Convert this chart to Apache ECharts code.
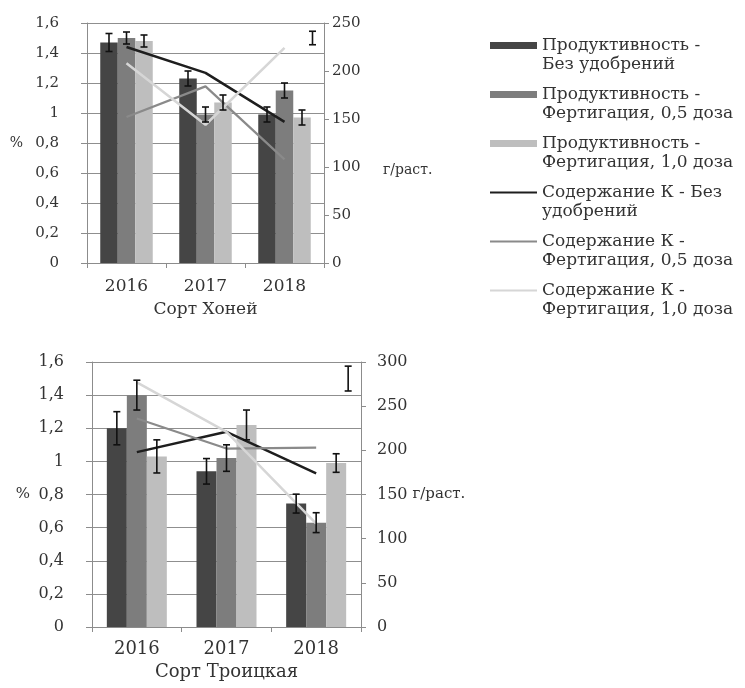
<!DOCTYPE html>
<html>
<head>
<meta charset="utf-8">
<title>Продуктивность и содержание К</title>
<script src="https://cdn.jsdelivr.net/npm/echarts@6/dist/echarts.min.js"></script>
<style>
  html, body { margin: 0; padding: 0; background: #ffffff; }
  #chart { width: 745px; height: 688px; }
</style>
</head>
<body>
<div id="chart"></div>
<script>
// Years on the category axis
const years = ['2016', '2017', '2018'];

// Series names (legend order) and their two-line legend captions
const seriesNames = [
  'Продуктивность - Без удобрений',
  'Продуктивность - Фертигация, 0,5 доза',
  'Продуктивность - Фертигация, 1,0 доза',
  'Содержание К - Без удобрений',
  'Содержание К - Фертигация, 0,5 доза',
  'Содержание К - Фертигация, 1,0 доза'
];
const legendCaptions = [
  'Продуктивность -\nБез удобрений',
  'Продуктивность -\nФертигация, 0,5 доза',
  'Продуктивность -\nФертигация, 1,0 доза',
  'Содержание К - Без\nудобрений',
  'Содержание К -\nФертигация, 0,5 доза',
  'Содержание К -\nФертигация, 1,0 доза'
];

// Panel titles
const varietyHoney = 'Сорт Хоней';
const varietyTroitskaya = 'Сорт Троицкая';
const leftAxisName = '%';
const rightAxisName = 'г/раст.';

// Сорт Хоней — bars (left axis) with error values
const honeyBarNoFert = [1.47, 1.23, 0.99];
const honeyBarFert05 = [1.50, 0.99, 1.15];
const honeyBarFert10 = [1.48, 1.07, 0.97];
const honeyErrNoFert = [0.06, 0.05, 0.05];
const honeyErrFert05 = [0.04, 0.05, 0.05];
const honeyErrFert10 = [0.04, 0.05, 0.05];
// Сорт Хоней — lines (right axis)
const honeyLineNoFert = [225, 198, 147];
const honeyLineFert05 = [152, 184, 108];
const honeyLineFert10 = [208, 144, 224];
// Сорт Хоней — separate whisker beside 2018: [centre, error]
const honeyLoneWhisker = [1.50, 0.045];

// Сорт Троицкая — bars (left axis) with error values
const troBarNoFert = [1.20, 0.94, 0.745];
const troBarFert05 = [1.40, 1.02, 0.63];
const troBarFert10 = [1.03, 1.22, 0.99];
const troErrNoFert = [0.10, 0.077, 0.057];
const troErrFert05 = [0.09, 0.08, 0.06];
const troErrFert10 = [0.10, 0.09, 0.056];
// Сорт Троицкая — lines (right axis)
const troLineNoFert = [198, 221, 174];
const troLineFert05 = [236, 202, 203];
const troLineFert10 = [277, 221, 117];
// Сорт Троицкая — separate whisker beside 2018: [centre, error]
const troLoneWhisker = [1.50, 0.075];

// Axis ranges
const leftMax = 1.6, leftStep = 0.2;
const honeyRightMax = 250, troRightMax = 300, rightStep = 50;

const barColors = ['#454545', '#7d7d7d', '#bebebe'];
const lineColors = ['#1e1e1e', '#8a8a8a', '#d6d6d6'];
const lineWidths = [2.5, 2.2, 2.5];
const fontFamily = 'DejaVu Serif';
const textColor = '#333333';
const axisGray = '#8c8c8c';

// Legend icon for the line series: a thin horizontal band inside a 47×7 box
const lineLegendIcon = 'path://M0,0H0.05V0.05H0Z M0,2.6H47V4.4H0Z M0,6.95H0.05V7H0Z';

const chart = echarts.init(document.getElementById('chart'), null, { renderer: 'canvas' });

function commaLabel(v) {
  return String(+v.toFixed(1)).replace('.', ',');
}

// Whisker drawn at a category, shifted sideways by a pixel offset
function whiskerRenderer(offsetPx) {
  return function (params, api) {
    const idx = api.value(0);
    const top = api.coord([idx, api.value(1)]);
    const bot = api.coord([idx, api.value(2)]);
    const x = top[0] + offsetPx;
    const cap = 3.5;
    const style = { stroke: '#111111', lineWidth: 1.6 };
    return {
      type: 'group',
      children: [
        { type: 'line', shape: { x1: x, y1: top[1], x2: x, y2: bot[1] }, style: style },
        { type: 'line', shape: { x1: x - cap, y1: top[1], x2: x + cap, y2: top[1] }, style: style },
        { type: 'line', shape: { x1: x - cap, y1: bot[1], x2: x + cap, y2: bot[1] }, style: style }
      ]
    };
  };
}

function whiskerData(values, errors) {
  return values.map((v, i) => [i, v + errors[i], v - errors[i]]);
}

function panelSeries(gridIdx, bars, errs, lines, lone, barW) {
  const xi = gridIdx, yl = gridIdx * 2, yr = gridIdx * 2 + 1;
  const out = [];
  bars.forEach((vals, k) => {
    out.push({
      name: seriesNames[k], type: 'bar', xAxisIndex: xi, yAxisIndex: yl,
      data: vals, barWidth: barW, barGap: '0%',
      itemStyle: { color: barColors[k] }, z: 2
    });
  });
  lines.forEach((vals, k) => {
    out.push({
      name: seriesNames[3 + k], type: 'line', xAxisIndex: xi, yAxisIndex: yr,
      data: vals, symbol: 'none', smooth: false,
      lineStyle: { color: lineColors[k], width: lineWidths[k] },
      itemStyle: { color: lineColors[k] }, z: 3
    });
  });
  bars.forEach((vals, k) => {
    out.push({
      type: 'custom', xAxisIndex: xi, yAxisIndex: yl,
      data: whiskerData(vals, errs[k]),
      encode: { x: 0, y: [1, 2] },
      renderItem: whiskerRenderer((k - 1) * barW), z: 5, silent: true
    });
  });
  out.push({
    type: 'custom', xAxisIndex: xi, yAxisIndex: yl,
    data: [[2, lone[0] + lone[1], lone[0] - lone[1]]],
    encode: { x: 0, y: [1, 2] },
    renderItem: whiskerRenderer(1.6 * barW), z: 5, silent: true
  });
  return out;
}

function xAxisFor(gridIdx, name, fontSize, labelMargin, nameFontSize, nameGap) {
  return {
    type: 'category', gridIndex: gridIdx, data: years, boundaryGap: true,
    axisLine: { show: true, lineStyle: { color: axisGray, width: 1 } },
    axisTick: { show: true, inside: false, length: 5, lineStyle: { color: axisGray } },
    axisLabel: { color: textColor, fontFamily: fontFamily, fontSize: fontSize, margin: labelMargin },
    name: name, nameLocation: 'middle', nameGap: nameGap,
    nameTextStyle: { color: textColor, fontFamily: fontFamily, fontSize: nameFontSize }
  };
}

function leftAxisFor(gridIdx, fontSize, nameGap) {
  return {
    type: 'value', gridIndex: gridIdx, position: 'left',
    min: 0, max: leftMax, interval: leftStep,
    axisLine: { show: true, lineStyle: { color: axisGray } },
    axisTick: { show: true, inside: false, length: 6, lineStyle: { color: axisGray } },
    axisLabel: { color: textColor, fontFamily: fontFamily, fontSize: fontSize, margin: 28, formatter: commaLabel },
    splitLine: { show: true, lineStyle: { color: '#8f8f8f', width: 1 } },
    name: leftAxisName, nameLocation: 'middle', nameRotate: 0, nameGap: nameGap,
    nameTextStyle: { color: textColor, fontFamily: fontFamily, fontSize: fontSize - 1 }
  };
}

function rightAxisFor(gridIdx, max, fontSize, labelMargin, nameGap, nameText) {
  return {
    type: 'value', gridIndex: gridIdx, position: 'right',
    min: 0, max: max, interval: rightStep,
    axisLine: { show: true, lineStyle: { color: axisGray } },
    axisTick: { show: true, inside: false, length: 5, lineStyle: { color: axisGray } },
    axisLabel: { color: textColor, fontFamily: fontFamily, fontSize: fontSize, margin: labelMargin },
    splitLine: { show: false },
    name: nameText, nameLocation: 'middle', nameRotate: 0, nameGap: nameGap,
    nameTextStyle: { color: textColor, fontFamily: fontFamily, fontSize: fontSize - 1, lineHeight: 18 }
  };
}

const option = {
  backgroundColor: '#ffffff',
  animation: false,
  textStyle: { fontFamily: fontFamily },
  legend: {
    orient: 'vertical', left: 490, top: 17, padding: 0,
    itemWidth: 47, itemHeight: 7, itemGap: -8, itemTextGap: 1,
    data: seriesNames.map((name, i) => ({ name: name, icon: i < 3 ? 'rect' : lineLegendIcon })),
    formatter: function (name) {
      return '\n' + legendCaptions[seriesNames.indexOf(name)];
    },
    textStyle: { color: textColor, fontFamily: fontFamily, fontSize: 17, lineHeight: 19 }
  },
  grid: [
    { left: 87, top: 23, width: 237, height: 240 },
    { left: 92, top: 362, width: 269, height: 265 }
  ],
  xAxis: [
    xAxisFor(0, varietyHoney, 17, 15, 17, 38),
    xAxisFor(1, varietyTroitskaya, 18, 13, 18, 36)
  ],
  yAxis: [
    leftAxisFor(0, 15, 64),
    // the unit caption sits a little below the middle of the upper panel
    rightAxisFor(0, honeyRightMax, 15, 8, 59, '\n\n\n' + rightAxisName),
    leftAxisFor(1, 16, 62),
    rightAxisFor(1, troRightMax, 16, 16, 47, rightAxisName)
  ],
  series: [].concat(
    panelSeries(0,
      [honeyBarNoFert, honeyBarFert05, honeyBarFert10],
      [honeyErrNoFert, honeyErrFert05, honeyErrFert10],
      [honeyLineNoFert, honeyLineFert05, honeyLineFert10],
      honeyLoneWhisker, 17.5),
    panelSeries(1,
      [troBarNoFert, troBarFert05, troBarFert10],
      [troErrNoFert, troErrFert05, troErrFert10],
      [troLineNoFert, troLineFert05, troLineFert10],
      troLoneWhisker, 20)
  )
};

chart.setOption(option);
</script>
</body>
</html>
